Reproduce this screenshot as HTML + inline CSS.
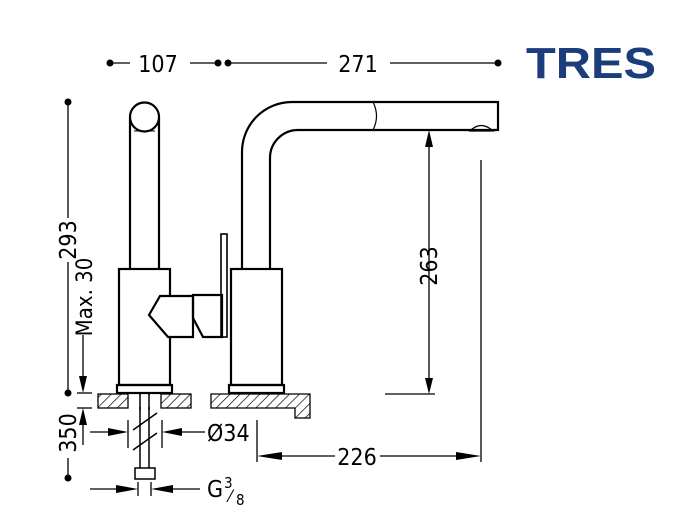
<!DOCTYPE html>
<html><head><style>body{margin:0;background:#fff}svg{display:block}text{font-family:"DejaVu Sans Condensed","Liberation Sans Narrow","Liberation Sans",sans-serif;fill:#000}</style></head>
<body>
<svg width="695" height="529" viewBox="0 0 695 529" xmlns="http://www.w3.org/2000/svg">
<defs>
<pattern id="h" width="7" height="7" patternUnits="userSpaceOnUse" patternTransform="rotate(45)"><line x1="0" y1="0" x2="0" y2="7" stroke="#000" stroke-width="1.4"/></pattern>
</defs>
<g stroke="#000" fill="none" stroke-width="1.3">
<line x1="110" y1="63" x2="130" y2="63"/><line x1="190" y1="63" x2="218" y2="63"/>
<line x1="228" y1="63" x2="327" y2="63"/><line x1="390" y1="63" x2="498" y2="63"/>
<line x1="68" y1="102" x2="68" y2="218"/><line x1="68" y1="262" x2="68" y2="393"/>
<line x1="68" y1="458" x2="68" y2="478"/>
<line x1="83" y1="335" x2="83" y2="380"/>
<line x1="77" y1="393" x2="92" y2="393"/><line x1="77" y1="408" x2="92" y2="408"/>
<line x1="83" y1="420" x2="83" y2="445"/>
<line x1="429" y1="145" x2="429" y2="380"/>
<line x1="385" y1="394" x2="435" y2="394"/>
<line x1="481" y1="160" x2="481" y2="462"/>
<line x1="257" y1="420" x2="257" y2="462"/>
<line x1="270" y1="456" x2="335" y2="456"/><line x1="380" y1="456" x2="468" y2="456"/>
<line x1="90" y1="432" x2="115" y2="432"/><line x1="128" y1="420" x2="128" y2="448"/>
<line x1="162" y1="420" x2="162" y2="448"/><line x1="178" y1="432" x2="205" y2="432"/>
<line x1="90" y1="489" x2="125" y2="489"/><line x1="138" y1="482" x2="138" y2="496"/>
<line x1="151" y1="482" x2="151" y2="496"/><line x1="165" y1="489" x2="200" y2="489"/>
</g>
<g fill="#000">
<circle cx="110" cy="63" r="3.5"/><circle cx="218" cy="63" r="3.5"/><circle cx="228" cy="63" r="3.5"/><circle cx="498" cy="63" r="3.5"/>
<circle cx="68" cy="102" r="3.5"/><circle cx="68" cy="393" r="3.5"/><circle cx="68" cy="478" r="3.5"/>
<polygon points="79,376 87,376 83,393"/><polygon points="79,425 87,425 83,408"/>
<polygon points="425,147 433,147 429,130"/><polygon points="425,378 433,378 429,394"/>
<polygon points="257,456 282,452 282,460"/><polygon points="481,456 456,452 456,460"/>
<polygon points="128,432 108,428 108,436"/><polygon points="162,432 182,428 182,436"/>
<polygon points="138,489 116,485 116,493"/><polygon points="151,489 173,485 173,493"/>
</g>
<g stroke="#000" fill="none" stroke-width="2.2">
<line x1="130" y1="117" x2="130" y2="269"/><line x1="159" y1="117" x2="159" y2="269"/>
<circle cx="144.5" cy="117" r="14.5" fill="#fff"/>
<line x1="134" y1="131" x2="155" y2="131" stroke-width="1"/>
<rect x="119" y="269" width="51" height="116"/>
<rect x="117" y="385" width="55" height="8"/>
<polygon points="160,296 193,296 193,337 168,337 149,315" fill="#fff"/>
<polygon points="193,295 222,295 222,337 203,337 193,318"/>
<rect x="221" y="234" width="6" height="103" stroke-width="1.6"/>
<rect x="231" y="269" width="51" height="116"/>
<rect x="229" y="385" width="55" height="8"/>
<path d="M242,269 V152 A50,50 0 0 1 292,102 H498 V130 H298 A28,28 0 0 0 270,158 V269"/>
<path d="M373,102 Q380,116 373,130" stroke-width="1.2"/>
<path d="M470,131 Q481,120 493,131 Z" stroke-width="1.3"/>
<line x1="140" y1="394" x2="140" y2="468" stroke-width="1.5"/><line x1="149" y1="394" x2="149" y2="468" stroke-width="1.5"/>
<rect x="135" y="468" width="20" height="11" stroke-width="1.5"/>
<line x1="133" y1="430" x2="157" y2="413" stroke-width="1.5"/><line x1="133" y1="450" x2="157" y2="433" stroke-width="1.5"/>
</g>
<g stroke="#000" stroke-width="1.3">
<rect x="98" y="394" width="30" height="14" fill="url(#h)"/>
<rect x="161" y="394" width="30" height="14" fill="url(#h)"/>
<path d="M211,394 H310 V418 H295 V408 H211 Z" fill="url(#h)"/>
</g>
<rect x="139" y="395" width="12" height="12" fill="#fff"/>
<line x1="140" y1="394" x2="140" y2="410" stroke="#000" stroke-width="1.5"/><line x1="149" y1="394" x2="149" y2="410" stroke="#000" stroke-width="1.5"/>
<g font-size="23">
<text x="158" y="72" text-anchor="middle">107</text>
<text x="358" y="72" text-anchor="middle">271</text>
<text x="357" y="465" text-anchor="middle">226</text>
<text x="207" y="441">Ø34</text>
<text x="207" y="497">G</text>
<text x="224" y="488" font-size="15">3</text><text x="229" y="502" font-size="17">⁄</text><text x="236" y="505" font-size="15">8</text>
<text transform="translate(437,266) rotate(-90)" text-anchor="middle">263</text>
<text transform="translate(76,240) rotate(-90)" text-anchor="middle">293</text>
<text transform="translate(92,297) rotate(-90)" text-anchor="middle" font-size="22">Max. 30</text>
<text transform="translate(76,433) rotate(-90)" text-anchor="middle">350</text>
</g>
<text x="526" y="78" font-size="44" font-weight="bold" style="fill:#1b3d7c;font-family:'Liberation Sans',sans-serif" textLength="130" lengthAdjust="spacingAndGlyphs">TRES</text>
</svg>
</body></html>
